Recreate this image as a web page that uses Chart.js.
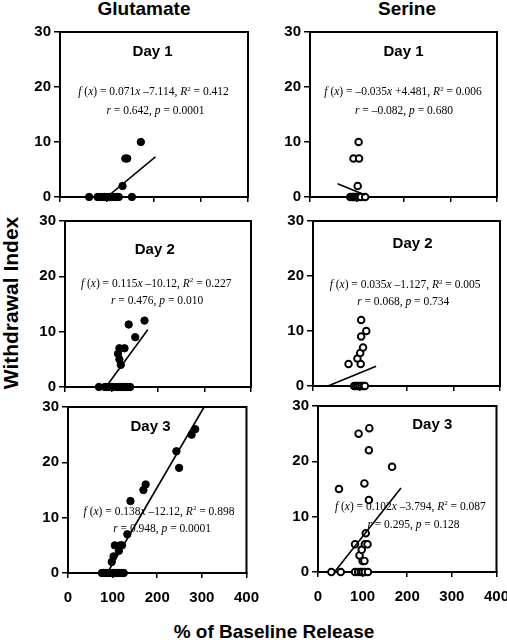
<!DOCTYPE html>
<html>
<head>
<meta charset="utf-8">
<script src="https://cdn.jsdelivr.net/npm/chart.js@4.4.0/dist/chart.umd.min.js"></script>
<style>
  body { margin: 0; background: #fff; }
  #page { position: relative; width: 507px; height: 640px; overflow: hidden; font-family: Arial, "Liberation Sans", sans-serif; }
  canvas { position: absolute; }
  .lbl { position: absolute; font-weight: bold; color: #000; white-space: nowrap; line-height: 1; transform: translate(-50%, -50%); }
</style>
</head>
<body>
<div id="page">
  <div class="lbl" style="font-size:19px; left:144px; top:8px;">Glutamate</div>
  <div class="lbl" style="font-size:19px; left:407px; top:8px;">Serine</div>
  <div class="lbl" style="font-size:21px; left:10px; top:303px; transform:translate(-50%,-50%) rotate(-90deg);">Withdrawal Index</div>
  <div class="lbl" style="font-size:19px; left:274px; top:631px;">% of Baseline Release</div>
  <canvas id="gluD1"></canvas>
  <canvas id="gluD2"></canvas>
  <canvas id="gluD3"></canvas>
  <canvas id="serD1"></canvas>
  <canvas id="serD2"></canvas>
  <canvas id="serD3"></canvas>
</div>
<script>
// ----- Data -----
const xTicks = [0, 100, 200, 300, 400];
const yTicks = [0, 10, 20, 30];

// Glutamate
const gluD1X = [62, 80, 85, 90, 95, 100, 105, 110, 115, 120, 125, 153, 133, 139, 143, 172];
const gluD1Y = [0, 0, 0, 0, 0, 0, 0, 0, 0, 0, 0, 0, 2, 7, 7, 10];
const gluD1Fit = [[100, 0], [203, 7.3]];

const gluD2X = [73, 86, 90, 95, 100, 105, 110, 115, 120, 125, 130, 135, 140, 120, 117, 114, 117, 128, 151, 137, 171];
const gluD2Y = [0, 0, 0, 0, 0, 0, 0, 0, 0, 0, 0, 0, 0, 4, 5, 6, 7, 7, 9, 11.3, 12];
const gluD2Fit = [[88, 0], [178, 10.35]];

const gluD3X = [76, 80, 84, 88, 92, 96, 100, 104, 108, 112, 116, 120, 125, 98, 102, 114, 105, 117, 121, 133, 140, 169, 174, 249, 243, 277, 285];
const gluD3Y = [0, 0, 0, 0, 0, 0, 0, 0, 0, 0, 0, 0, 0, 2, 3, 4, 5, 5, 5, 7, 13, 15, 16, 19, 22, 25, 26];
const gluD3Fit = [[88, 0], [305, 30]];

// Serine
const serD1X = [86, 90, 93, 96, 99, 102, 105, 109, 118, 102, 93, 105, 104];
const serD1Y = [0, 0, 0, 0, 0, 0, 0, 0, 0, 2, 7, 7, 10];
const serD1Fit = [[59, 2.4], [118, 0.35]];

const serD2X = [88, 92, 96, 100, 104, 108, 111, 76, 102, 95, 101, 107, 103, 114, 103];
const serD2Y = [0, 0, 0, 0, 0, 0, 0, 4, 4, 5, 6, 7, 9, 10, 12];
const serD2Fit = [[32, 0], [135, 3.6]];

const serD3X = [30, 51, 83, 90, 96, 100, 105, 112, 100, 104, 93, 98, 83, 105, 111, 107, 114, 47, 104, 166, 114, 91, 115];
const serD3Y = [0, 0, 0, 0, 0, 0, 0, 0, 2, 2, 3, 4, 5, 5, 5, 7, 13, 15, 16, 19, 22, 25, 26];
const serD3Fit = [[37, 0], [186, 15.2]];

// Panel texts ({..} = italic, ^n = superscript)
const gluD1Eq = ["{f} ({x}) = 0.071{x} \u20137.114, {R}^2 = 0.412", "{r} = 0.642, {p} = 0.0001"];
const gluD2Eq = ["{f} ({x}) = 0.115{x} \u201310.12, {R}^2 = 0.227", "{r} = 0.476, {p} = 0.010"];
const gluD3Eq = ["{f} ({x}) = 0.138{x} \u201312.12, {R}^2 = 0.898", "{r} = 0.948, {p} = 0.0001"];
const serD1Eq = ["{f} ({x}) = \u20130.035{x} +4.481, {R}^2 = 0.006", "{r} = \u20130.082, {p} = 0.680"];
const serD2Eq = ["{f} ({x}) = 0.035{x} \u20131.127, {R}^2 = 0.005", "{r} = 0.068, {p} = 0.734"];
const serD3Eq = ["{f} ({x}) = 0.102{x} \u20133.794, {R}^2 = 0.087", "{r} = 0.295, {p} = 0.128"];

// ----- Helpers -----
const SANS = 'Arial, "Liberation Sans", sans-serif';
const SERIF = '"Liberation Serif", "Times New Roman", serif';

function drawRich(ctx, str, cx, cy, size) {
  const parts = [];
  str.replace(/\{([^}]*)\}|\^(\d)|([^{^]+)/g, (m, it, sup, plain) => {
    if (it) parts.push({ t: it, font: `italic ${size}px ${SERIF}`, dy: 0 });
    else if (sup) parts.push({ t: sup, font: `${Math.round(size * 0.65)}px ${SERIF}`, dy: -size * 0.4 });
    else parts.push({ t: plain, font: `${size}px ${SERIF}`, dy: 0 });
    return m;
  });
  let w = 0;
  parts.forEach(p => { ctx.font = p.font; p.w = ctx.measureText(p.t).width; w += p.w; });
  let x = cx - w / 2;
  const base = cy + size * 0.35;
  ctx.textAlign = 'left';
  ctx.textBaseline = 'alphabetic';
  ctx.fillStyle = '#000';
  parts.forEach(p => { ctx.font = p.font; ctx.fillText(p.t, x, base + p.dy); x += p.w; });
}

const framePlugin = {
  id: 'frame',
  beforeDatasetsDraw(chart) {
    const { ctx, chartArea: a } = chart;
    ctx.save();
    ctx.strokeStyle = '#000';
    ctx.lineWidth = 2;
    ctx.strokeRect(a.left, a.top, a.right - a.left, a.bottom - a.top);
    ctx.restore();
  }
};

const panelTextPlugin = {
  id: 'panelText',
  beforeDatasetsDraw(chart, args, opts) {
    const { ctx, scales: { x, y } } = chart;
    ctx.save();
    ctx.fillStyle = '#000';
    ctx.font = `bold 15px ${SANS}`;
    ctx.textAlign = 'center';
    ctx.textBaseline = 'middle';
    ctx.fillText(opts.day, x.getPixelForValue(opts.dayPos[0]), y.getPixelForValue(opts.dayPos[1]));
    drawRich(ctx, opts.eq[0], x.getPixelForValue(opts.eq1Pos[0]), y.getPixelForValue(opts.eq1Pos[1]), 11.5);
    drawRich(ctx, opts.eq[1], x.getPixelForValue(opts.eq2Pos[0]), y.getPixelForValue(opts.eq2Pos[1]), 11.5);
    ctx.restore();
  }
};

function makePanel(id, box, xs, ys, fit, hollow, showXLabels, txt) {
  const [L, T, R, B] = box;
  const padL = 50, padT = 10, padR = 16, padB = 36;
  const canvas = document.getElementById(id);
  const w = R - L + padL + padR, h = B - T + padT + padB;
  canvas.width = w; canvas.height = h;
  canvas.style.width = w + 'px'; canvas.style.height = h + 'px';
  canvas.style.left = (L - padL) + 'px';
  canvas.style.top = (T - padT) + 'px';

  const tickFont = { family: SANS, size: 15, weight: 'bold' };
  new Chart(canvas, {
    type: 'scatter',
    data: {
      datasets: [
        {
          type: 'line',
          data: fit.map(p => ({ x: p[0], y: p[1] })),
          borderColor: '#000', borderWidth: 1.6, pointRadius: 0,
          fill: false, tension: 0, clip: false, order: 0
        },
        {
          data: xs.map((v, i) => ({ x: v, y: ys[i] })),
          pointRadius: hollow ? 3.3 : 3.7,
          pointBackgroundColor: hollow ? '#fff' : '#000',
          pointBorderColor: '#000',
          pointBorderWidth: hollow ? 1.9 : 1,
          clip: false, order: 1
        }
      ]
    },
    options: {
      responsive: false,
      animation: false,
      devicePixelRatio: 1,
      layout: { padding: { left: 0, top: padT, right: padR, bottom: 0 } },
      plugins: { legend: { display: false }, tooltip: { enabled: false }, panelText: txt },
      scales: {
        x: {
          type: 'linear', min: xTicks[0], max: xTicks[xTicks.length - 1],
          afterBuildTicks: s => { s.ticks = xTicks.map(v => ({ value: v })); },
          ticks: { display: showXLabels, color: '#000', font: tickFont, padding: 11, maxRotation: 0 },
          grid: { drawOnChartArea: false, tickLength: 5, color: '#000', lineWidth: 1.5 },
          border: { color: '#000', width: 2 },
          afterFit: s => { s.height = padB; }
        },
        y: {
          type: 'linear', min: yTicks[0], max: yTicks[yTicks.length - 1],
          afterBuildTicks: s => { s.ticks = yTicks.map(v => ({ value: v })); },
          ticks: { color: '#000', font: tickFont, padding: 3 },
          grid: { drawOnChartArea: false, tickLength: 6, color: '#000', lineWidth: 1.5 },
          border: { color: '#000', width: 2 },
          afterFit: s => { s.width = padL; }
        }
      }
    },
    plugins: [framePlugin, panelTextPlugin]
  });
}

// ----- Panels: plot box [left, top, right, bottom] in page px -----
makePanel('gluD1', [60, 30, 248, 197], gluD1X, gluD1Y, gluD1Fit, false, false,
  { day: 'Day 1', dayPos: [197, 26.4], eq: gluD1Eq, eq1Pos: [199, 19.2], eq2Pos: [203, 15.8] });
makePanel('gluD2', [65, 219, 251, 387], gluD2X, gluD2Y, gluD2Fit, false, false,
  { day: 'Day 2', dayPos: [193, 24.8], eq: gluD2Eq, eq1Pos: [196, 18.8], eq2Pos: [198, 15.7] });
makePanel('gluD3', [68, 405, 254, 573], gluD3X, gluD3Y, gluD3Fit, false, true,
  { day: 'Day 3', dayPos: [185, 26.4], eq: gluD3Eq, eq1Pos: [204, 11.25], eq2Pos: [211, 8.2] });
makePanel('serD1', [310, 30, 497, 197], serD1X, serD1Y, serD1Fit, true, false,
  { day: 'Day 1', dayPos: [200, 26.4], eq: serD1Eq, eq1Pos: [199, 19.2], eq2Pos: [201, 15.8] });
makePanel('serD2', [313, 219, 500, 386], serD2X, serD2Y, serD2Fit, true, false,
  { day: 'Day 2', dayPos: [213, 25.9], eq: serD2Eq, eq1Pos: [197, 18.5], eq2Pos: [193, 15.4] });
makePanel('serD3', [318, 404, 504, 572], serD3X, serD3Y, serD3Fit, true, true,
  { day: 'Day 3', dayPos: [256, 26.6], eq: serD3Eq, eq1Pos: [207, 12], eq2Pos: [214, 8.6] });
</script>
</body>
</html>
